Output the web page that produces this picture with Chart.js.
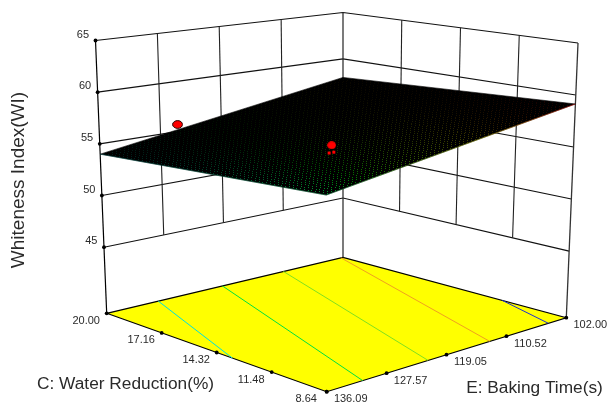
<!DOCTYPE html>
<html lang="en">
<head>
    <meta charset="UTF-8">
    <title>Whiteness Index response surface</title>
    <script src="https://cdn.jsdelivr.net/npm/chart.js"></script>
    <style>
        html, body { margin: 0; padding: 0; background: #fff; }
        canvas { display: block; }
    </style>
</head>
<body>
    <canvas id="surfaceChart" width="608" height="403"></canvas>

    <script>
        // axis ticks
        const whitenessTicks = [45, 50, 55, 60, 65];
        const waterTicks = [20.00, 17.16, 14.32, 11.48, 8.64];
        const bakingTicks = [136.09, 127.57, 119.05, 110.52, 102.00];

        // surface height at the four corners, rows = water, columns = baking
        const surfaceWater = [20.00, 8.64];
        const surfaceBaking = [136.09, 102.00];
        const surfaceWI = [
            [54.0, 58.0],
            [55.14, 59.14]
        ];

        // floor contours, read as [baking, water] end points
        const contourCyan = [[128.65, 20.00], [136.09, 13.51]];
        const contourGreen = [[119.40, 20.00], [130.97, 8.64]];
        const contourLime = [[110.60, 20.00], [121.67, 8.64]];
        const contourOrange = [[102.30, 20.00], [112.90, 8.64]];
        const contourBlue = [[102.00, 11.90], [104.56, 8.64]];

        // design points
        const pointBaking = [125.15, 119.60];
        const pointWater = [20.00, 14.32];
        const pointWI = [55.7, 55.35];
        const legBaking = [119.95, 119.30];
        const legWater = [14.32, 14.32];
        const legWI = [54.65, 54.65];

        // where the box corners land in the picture
        const floorWI = 38.6;
        const boxCorners = {
            left: { floor: [106.7, 313.3], top: [95.5, 40.5] },
            back: { floor: [343, 257.3], top: [343, 12.5] },
            front: { floor: [326.7, 391.7], top: [326, 77.8] },
            right: { floor: [566.3, 317.7], top: [578, 43] }
        };

        const eMax = bakingTicks[0], eMin = bakingTicks[4];
        const cMax = waterTicks[0], cMin = waterTicks[4];
        const zMax = whitenessTicks[4];

        function bilinear(key, i, u, v) {
            const b = boxCorners;
            return (1 - u) * (1 - v) * b.left[key][i] + u * (1 - v) * b.back[key][i] +
                (1 - u) * v * b.front[key][i] + u * v * b.right[key][i];
        }

        function project(e, c, wi) {
            const u = (eMax - e) / (eMax - eMin);
            const v = (cMax - c) / (cMax - cMin);
            const t = (wi - floorWI) / (zMax - floorWI);
            return {
                x: bilinear('floor', 0, u, v) * (1 - t) + bilinear('top', 0, u, v) * t,
                y: bilinear('floor', 1, u, v) * (1 - t) + bilinear('top', 1, u, v) * t
            };
        }

        function surfaceCorner(row, col) {
            return project(surfaceBaking[col], surfaceWater[row], surfaceWI[row][col]);
        }

        // mesh texture: black with small coloured gaps, brighter towards the viewer
        function meshPattern() {
            const tex = document.createElement('canvas');
            tex.width = 608;
            tex.height = 403;
            const g = tex.getContext('2d');
            g.fillStyle = '#000';
            g.fillRect(0, 0, 608, 403);
            const steps = 60;
            for (let i = 0; i <= steps; i++) {
                for (let j = 0; j <= steps; j++) {
                    const u = i / steps, v = j / steps;
                    const wi = (1 - u) * (1 - v) * surfaceWI[0][0] + u * (1 - v) * surfaceWI[0][1] +
                        (1 - u) * v * surfaceWI[1][0] + u * v * surfaceWI[1][1];
                    const p = project(eMax - u * (eMax - eMin), cMax - v * (cMax - cMin), wi);
                    const s = (1 - u + v) / 2;
                    const hue = 180 - 180 * (wi - 54) / 5.14;
                    g.fillStyle = `hsla(${hue}, 100%, 50%, ${0.04 + 0.6 * s * s * s})`;
                    g.fillRect(Math.round(p.x), Math.round(p.y), 1, 1);
                }
            }
            return g.createPattern(tex, 'no-repeat');
        }

        function edgeGradient() {
            const g = document.getElementById('surfaceChart').getContext('2d').createLinearGradient(100, 0, 576, 0);
            g.addColorStop(0, 'rgba(0, 170, 170, 0.4)');
            g.addColorStop(0.47, 'rgba(0, 190, 90, 0.5)');
            g.addColorStop(0.8, 'rgba(220, 220, 0, 0.6)');
            g.addColorStop(1, 'rgba(255, 0, 0, 0.7)');
            return g;
        }

        function ballImage(w, h, stroke) {
            const c = document.createElement('canvas');
            c.width = w;
            c.height = h;
            const g = c.getContext('2d');
            g.beginPath();
            g.ellipse(w / 2, h / 2, w / 2 - 0.6, h / 2 - 0.6, 0, 0, Math.PI * 2);
            g.fillStyle = '#ff0000';
            g.fill();
            g.lineWidth = 1;
            g.strokeStyle = stroke;
            g.stroke();
            return c;
        }

        const datasets = [];

        function addLine(data, color, width) {
            datasets.push({ data: data, showLine: true, borderColor: color, borderWidth: width, pointRadius: 0, fill: false });
        }

        // floor
        const floorOutline = [[eMax, cMax], [eMin, cMax], [eMin, cMin], [eMax, cMin], [eMax, cMax]].map(p => project(p[0], p[1], floorWI));
        datasets.push({ data: floorOutline, showLine: true, fill: 'shape', backgroundColor: '#ffff00', borderColor: '#000', borderWidth: 1.2, pointRadius: 0 });

        addLine(contourCyan.map(p => project(p[0], p[1], floorWI)), '#00e0e0', 1);
        addLine(contourGreen.map(p => project(p[0], p[1], floorWI)), '#00e040', 1);
        addLine(contourLime.map(p => project(p[0], p[1], floorWI)), '#80e020', 1);
        addLine(contourOrange.map(p => project(p[0], p[1], floorWI)), '#f0a020', 1);
        addLine(contourBlue.map(p => project(p[0], p[1], floorWI)), '#2030d0', 1);

        // back walls
        whitenessTicks.forEach(z => {
            addLine([project(eMax, cMax, z), project(eMin, cMax, z), project(eMin, cMin, z)], '#111', 1.1);
        });
        bakingTicks.slice(1, 4).forEach(e => addLine([project(e, cMax, 45), project(e, cMax, zMax)], '#222', 1.1));
        waterTicks.slice(1, 4).forEach(c => addLine([project(eMin, c, 45), project(eMin, c, zMax)], '#222', 1.1));
        addLine([project(eMax, cMax, floorWI), project(eMax, cMax, zMax)], '#000', 1.2);
        addLine([project(eMin, cMax, floorWI), project(eMin, cMax, zMax)], '#333', 1.3);
        addLine([project(eMin, cMin, floorWI), project(eMin, cMin, zMax)], '#333', 1.3);

        // tick dots
        const tickDots = whitenessTicks.map(z => project(eMax, cMax, z))
            .concat(waterTicks.map(c => project(eMax, c, floorWI)))
            .concat(bakingTicks.map(e => project(e, cMin, floorWI)));
        datasets.push({ data: tickDots, backgroundColor: '#000', borderColor: '#000', borderWidth: 0, pointRadius: 1.9 });

        // design point standing behind the surface edge
        datasets.push({
            data: [project(pointBaking[0], pointWater[0], pointWI[0])],
            pointStyle: ballImage(11, 9, '#200000')
        });

        // surface
        const surfaceOutline = [surfaceCorner(0, 0), surfaceCorner(0, 1), surfaceCorner(1, 1), surfaceCorner(1, 0), surfaceCorner(0, 0)];
        datasets.push({ data: surfaceOutline, showLine: true, fill: 'shape', backgroundColor: meshPattern(), borderColor: '#000', borderWidth: 0.6, pointRadius: 0 });
        addLine([surfaceCorner(0, 0), surfaceCorner(1, 0), surfaceCorner(1, 1)], edgeGradient(), 0.6);

        // design point on the surface and the two stubs under it
        datasets.push({
            data: [project(legBaking[0], legWater[0], legWI[0]), project(legBaking[1], legWater[1], legWI[1])],
            pointStyle: 'rect', pointRadius: 2.1, backgroundColor: '#ff0000', borderWidth: 0
        });
        datasets.push({
            data: [project(pointBaking[1], pointWater[1], pointWI[1])],
            pointStyle: ballImage(9, 8, '#ff0000')
        });

        // painted last on top: Chart.js draws the lowest order last
        datasets.forEach((d, i) => { d.order = -i; });

        const labelPlugin = {
            id: 'boxLabels',
            afterDraw(chart) {
                const ctx = chart.ctx;
                const sx = chart.scales.x, sy = chart.scales.y;
                function put(p, dx, dy, text) {
                    ctx.fillText(text, sx.getPixelForValue(p.x) + dx, sy.getPixelForValue(p.y) + dy);
                }
                ctx.save();
                ctx.fillStyle = '#2a2a2a';
                ctx.textBaseline = 'middle';
                ctx.font = '11px "Liberation Sans", Arial, sans-serif';
                ctx.textAlign = 'right';
                whitenessTicks.forEach(z => put(project(eMax, cMax, z), -6.5, -6, String(z)));
                ctx.textAlign = 'center';
                waterTicks.forEach(c => put(project(eMax, c, floorWI), -20.5, 7.4, c.toFixed(2)));
                bakingTicks.forEach(e => put(project(e, cMin, floorWI), 24, 7.4, e.toFixed(2)));

                ctx.font = '17.3px "Liberation Sans", Arial, sans-serif';
                ctx.fillText('C: Water Reduction(%)', 125.5, 384.5);
                ctx.fillText('E: Baking Time(s)', 534.5, 388.5);
                ctx.font = '19px "Liberation Sans", Arial, sans-serif';
                ctx.translate(19, 180);
                ctx.rotate(-Math.PI / 2);
                ctx.fillText('Whiteness Index(WI)', 0, 0);
                ctx.restore();
            }
        };

        new Chart(document.getElementById('surfaceChart').getContext('2d'), {
            type: 'scatter',
            data: { datasets: datasets },
            plugins: [labelPlugin],
            options: {
                responsive: false,
                animation: false,
                devicePixelRatio: 1,
                layout: { padding: 0, autoPadding: false },
                scales: {
                    x: { type: 'linear', display: false, min: 0, max: 608 },
                    y: { type: 'linear', display: false, min: 0, max: 403, reverse: true }
                },
                plugins: {
                    legend: { display: false },
                    tooltip: { enabled: false }
                }
            }
        });
    </script>
</body>
</html>
